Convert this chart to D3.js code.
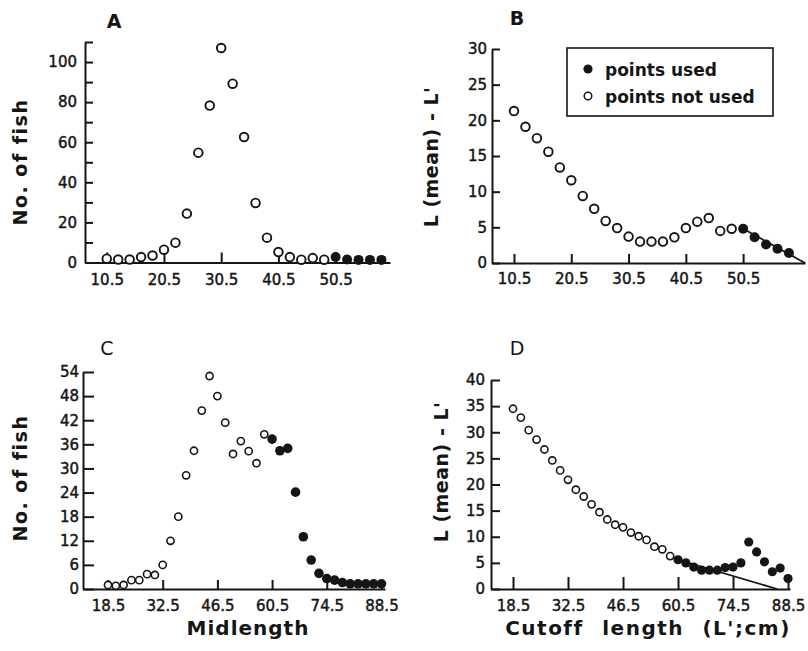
<!DOCTYPE html>
<html>
<head>
<meta charset="utf-8">
<script src="https://cdn.jsdelivr.net/npm/d3@7"></script>
<style>
  body { margin: 0; background: #fff; }
  svg text { font-family: "DejaVu Sans", sans-serif; fill: #151515; }
  .tick text { font-size: 15px; stroke: #151515; stroke-width: 0.45; }
  .domain, .tick line { stroke: #151515; stroke-width: 2; }
</style>
</head>
<body>
<svg id="fig" width="808" height="651"></svg>
<script>
// A: length frequency, sample 1
const midA = [10.5, 12.5, 14.5, 16.5, 18.5, 20.5, 22.5, 24.5, 26.5, 28.5, 30.5, 32.5, 34.5,
              36.5, 38.5, 40.5, 42.5, 44.5, 46.5, 48.5, 50.5, 52.5, 54.5, 56.5, 58.5];
const fishA = [1.9, 1.5, 1.5, 2.7, 3.5, 6.4, 9.9, 24.4, 54.8, 78.3, 107, 89.2, 62.6,
               29.7, 12.4, 5.2, 2.7, 1.4, 2.2, 1.4, 2.7, 1.5, 1.3, 1.3, 1.3];
const usedFromA = 50.5;

// B: L(mean) - L' against cutoff, sample 1
const cutB = midA;
const diffB = [21.3, 19.1, 17.5, 15.6, 13.4, 11.6, 9.4, 7.6, 5.9, 4.9, 3.7, 3.0, 3.0,
               3.0, 3.6, 4.9, 5.8, 6.3, 4.5, 4.8, 4.8, 3.6, 2.6, 2.0, 1.4];
const usedFromB = 50.5;
const fitB = [[50.5, 4.8], [61.3, 0]];

// C: length frequency, sample 2
const midC = [18.5, 20.5, 22.5, 24.5, 26.5, 28.5, 30.5, 32.5, 34.5, 36.5, 38.5, 40.5,
              42.5, 44.5, 46.5, 48.5, 50.5, 52.5, 54.5, 56.5, 58.5, 60.5, 62.5, 64.5,
              66.5, 68.5, 70.5, 72.5, 74.5, 76.5, 78.5, 80.5, 82.5, 84.5, 86.5, 88.5];
const fishC = [1.0, 0.8, 1.0, 2.2, 2.2, 3.7, 3.5, 6.0, 12.0, 18.0, 28.3, 34.4,
               44.4, 53.0, 48.0, 41.4, 33.6, 36.8, 34.3, 31.3, 38.5, 37.3, 34.4, 35.0,
               24.1, 13.0, 7.2, 3.9, 2.6, 2.2, 1.6, 1.3, 1.3, 1.3, 1.3, 1.3];
const usedFromC = 60.5;

// D: L(mean) - L' against cutoff, sample 2
const cutD = midC;
const diffD = [34.5, 32.8, 30.4, 28.6, 26.7, 24.6, 22.7, 20.9, 19.0, 17.7, 16.2, 14.7,
               13.3, 12.3, 11.8, 10.8, 10.1, 9.4, 8.1, 7.6, 6.3, 5.6, 5.0, 4.2,
               3.6, 3.6, 3.6, 4.1, 4.2, 5.0, 9.0, 7.1, 5.2, 3.3, 4.0, 2.0];
const usedFromD = 60.5;
const fitD = [[60.5, 5.6], [85.7, 0]];

// axis ticks
const xTicksAB = [10.5, 20.5, 30.5, 40.5, 50.5];
const xTicksCD = [18.5, 32.5, 46.5, 60.5, 74.5, 88.5];
const yTicksA = [0, 10, 20, 30, 40, 50, 60, 70, 80, 90, 100, 110];
const yLabelsA = [0, 20, 40, 60, 80, 100];
const yTicksB = [0, 5, 10, 15, 20, 25, 30];
const yTicksC = [0, 6, 12, 18, 24, 30, 36, 42, 48, 54];
const yTicksD = [0, 5, 10, 15, 20, 25, 30, 35, 40];

const svg = d3.select("#fig");

function drawPanel(p) {
    const g = svg.append("g");
    const x = d3.scaleLinear().domain(p.xDom).range(p.xRange);
    const y = d3.scaleLinear().domain(p.yDom).range(p.yRange);

    g.append("g")
        .attr("transform", `translate(${p.xRange[0]},0)`)
        .call(d3.axisLeft(y)
            .tickValues(p.yTicks)
            .tickFormat(d => p.yLabels.includes(d) ? d : "")
            .tickSizeInner(-p.yTick).tickSizeOuter(0).tickPadding(p.yPad));

    g.append("g")
        .attr("transform", `translate(0,${p.yRange[0]})`)
        .call(d3.axisBottom(x)
            .tickValues(p.xTicks)
            .tickFormat(d3.format(".1f"))
            .tickSizeInner(-p.xTick).tickSizeOuter(0).tickPadding(p.xPad));

    if (p.fit) {
        g.append("path")
            .datum(p.fit)
            .attr("d", d3.line().x(d => x(d[0])).y(d => y(d[1])))
            .attr("fill", "none")
            .attr("stroke", "#151515")
            .attr("stroke-width", 1.8);
    }

    const pts = p.xs.map((v, i) => ({ x: v, y: p.ys[i], used: v >= p.usedFrom }));
    g.selectAll("circle.pt")
        .data(pts)
        .join("circle")
        .attr("class", "pt")
        .attr("cx", d => x(d.x))
        .attr("cy", d => y(d.y))
        .attr("r", d => d.used ? p.rFill : p.rOpen)
        .attr("fill", d => d.used ? "#151515" : "#fff")
        .attr("stroke", "#151515")
        .attr("stroke-width", d => d.used ? 0 : p.sw);
}

drawPanel({ xs: midA, ys: fishA, usedFrom: usedFromA,
    xDom: [6.7, 60], xRange: [85, 390], yDom: [0, 110], yRange: [262.5, 42],
    xTicks: xTicksAB, yTicks: yTicksA, yLabels: yLabelsA,
    xTick: 10, yTick: 8, xPad: 12, yPad: 8, rOpen: 4.3, rFill: 5, sw: 1.9 });

drawPanel({ xs: cutB, ys: diffB, usedFrom: usedFromB, fit: fitB,
    xDom: [6.66, 61.3], xRange: [492, 805], yDom: [0, 30], yRange: [263, 49],
    xTicks: xTicksAB, yTicks: yTicksB, yLabels: yTicksB,
    xTick: 9, yTick: 8, xPad: 10, yPad: 5, rOpen: 4.3, rFill: 5, sw: 1.9 });

drawPanel({ xs: midC, ys: fishC, usedFrom: usedFromC,
    xDom: [12.1, 89.4], xRange: [83, 385], yDom: [0, 54], yRange: [589, 372],
    xTicks: xTicksCD, yTicks: yTicksC, yLabels: yTicksC,
    xTick: 9, yTick: 11, xPad: 11, yPad: 4, rOpen: 3.6, rFill: 4.8, sw: 1.6 });

drawPanel({ xs: cutD, ys: diffD, usedFrom: usedFromD, fit: fitD,
    xDom: [12.9, 89], xRange: [491, 790], yDom: [0, 40], yRange: [589, 380],
    xTicks: xTicksCD, yTicks: yTicksD, yLabels: yTicksD,
    xTick: 12, yTick: 9, xPad: 11, yPad: 6, rOpen: 3.6, rFill: 4.6, sw: 1.6 });

// panel letters
const letters = [
    { t: "A", x: 114, y: 28, w: "bold" },
    { t: "B", x: 517, y: 25, w: "bold" },
    { t: "C", x: 107, y: 355, w: "normal" },
    { t: "D", x: 517, y: 355, w: "normal" }
];
svg.selectAll("text.letter")
    .data(letters)
    .join("text")
    .attr("class", "letter")
    .attr("x", d => d.x).attr("y", d => d.y)
    .attr("text-anchor", "middle")
    .style("font-size", "19px")
    .style("font-weight", d => d.w)
    .text(d => d.t);

// axis titles
function yTitle(txt, x, y, spacing) {
    svg.append("text")
        .attr("transform", `translate(${x},${y}) rotate(-90)`)
        .attr("text-anchor", "middle")
        .style("font-size", "19px").style("font-weight", "bold")
        .style("letter-spacing", spacing + "px")
        .text(txt);
}
yTitle("No. of fish", 27, 162, 1.5);
yTitle("No. of fish", 27, 478, 1.5);
yTitle("L (mean) - L'", 438, 157, 0.5);
yTitle("L (mean) - L'", 448, 472, 0.5);

svg.append("text")
    .attr("x", 248).attr("y", 635).attr("text-anchor", "middle")
    .style("font-size", "20px").style("font-weight", "bold").style("letter-spacing", "1px")
    .text("Midlength");
svg.append("text")
    .attr("x", 648).attr("y", 635).attr("text-anchor", "middle")
    .style("font-size", "20px").style("font-weight", "bold")
    .style("letter-spacing", "1.5px").style("word-spacing", "10px")
    .text("Cutoff length (L';cm)");

// legend in B
const legend = svg.append("g");
legend.append("rect")
    .attr("x", 567).attr("y", 48).attr("width", 206).attr("height", 68)
    .attr("fill", "#fff").attr("stroke", "#151515").attr("stroke-width", 1.6);
legend.append("circle").attr("cx", 588).attr("cy", 69).attr("r", 4.6).attr("fill", "#151515");
legend.append("circle").attr("cx", 588).attr("cy", 96).attr("r", 3.8)
    .attr("fill", "#fff").attr("stroke", "#151515").attr("stroke-width", 1.5);
legend.append("text").attr("x", 605).attr("y", 76)
    .style("font-size", "17px").style("font-weight", "bold").text("points used");
legend.append("text").attr("x", 605).attr("y", 103)
    .style("font-size", "17px").style("font-weight", "bold").text("points not used");
</script>
</body>
</html>
